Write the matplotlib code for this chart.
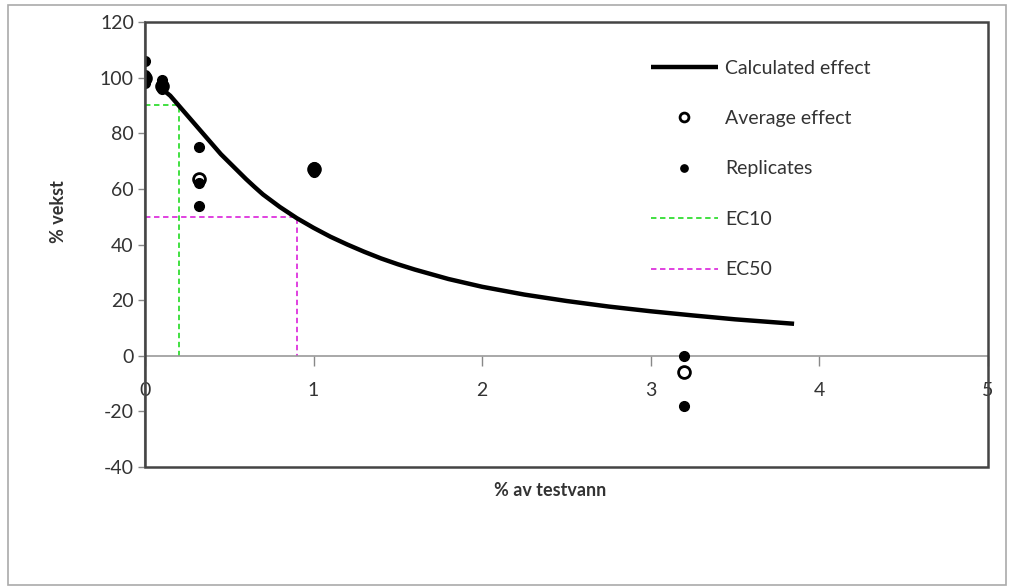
import matplotlib
matplotlib.use("Agg")
import matplotlib.pyplot as plt
from matplotlib.patches import Rectangle
from matplotlib.ticker import FuncFormatter

plt.rcParams['font.family'] = ['Lato', 'DejaVu Sans']

# replicate measurements (% growth) per test-water concentration
rep_x = [0, 0, 0, 0, 0, 0.1, 0.1, 0.1, 0.32, 0.32, 0.32, 1.0, 1.0, 1.0, 3.2, 3.2]
rep_y = [106, 101, 100, 99, 98, 99, 97, 96, 75, 62, 54, 68, 67, 66, 0, -18]

# averages
avg_x = [0, 0.1, 0.32, 1.0, 3.2]
avg_y = [100, 97, 63.5, 67, -6]

# calculated effect curve
curve_x = [0.08, 0.1, 0.15, 0.2, 0.25, 0.3, 0.35, 0.4, 0.45, 0.5, 0.55, 0.6, 0.65, 0.7,
           0.8, 0.9, 1.0, 1.1, 1.2, 1.3, 1.4, 1.5, 1.6, 1.8, 2.0, 2.25, 2.5, 2.75,
           3.0, 3.25, 3.5, 3.85]
curve_y = [97, 96, 93.5, 90, 86.5, 83, 79.5, 76, 72.5, 69.5, 66.5, 63.5, 60.7, 58,
           53.5, 49.5, 46, 42.8, 40, 37.4, 35, 32.9, 31, 27.6, 24.8, 22, 19.7, 17.7,
           16, 14.5, 13.1, 11.5]

ec10 = (0.2, 90)
ec50 = (0.9, 50)

xticks = [0, 1, 2, 3, 4, 5]
yticks = [-40, -20, 0, 20, 40, 60, 80, 100, 120]

fig = plt.figure(figsize=(10.13, 5.87), dpi=100)
ax = fig.add_axes([0.1431, 0.2044, 0.8322, 0.7581])

ax.plot(curve_x, curve_y, color='black', lw=3.2, solid_capstyle='butt',
        label='Calculated effect', zorder=3)
ax.plot(avg_x, avg_y, 'o', ms=8.5, mfc='white', mec='black', mew=2,
        label='Average effect', zorder=4)
ax.plot(rep_x, rep_y, 'o', ms=7, color='black', label='Replicates', zorder=5)

ax.plot([0, ec10[0], ec10[0]], [ec10[1], ec10[1], 0], ls=(0, (3, 2)),
        color='#33dd33', lw=1.3, label='EC10', zorder=2)
ax.plot([0, ec50[0], ec50[0]], [ec50[1], ec50[1], 0], ls=(0, (3, 2)),
        color='#dd33dd', lw=1.3, label='EC50', zorder=2)

ax.set_xlim(0, 5)
ax.set_ylim(-40, 120)
ax.set_xticks(xticks)
ax.set_yticks(yticks)
ax.yaxis.set_major_formatter(FuncFormatter(lambda v, p: '%d' % v))
ax.tick_params(axis='x', direction='out', length=7, width=1, color='#888888',
               pad=12, labelsize=14, labelcolor='#333333')
ax.tick_params(axis='y', direction='out', length=5, width=1, color='#888888',
               pad=3, labelsize=14, labelcolor='#333333')

ax.spines['bottom'].set_position(('data', 0))
ax.spines['bottom'].set_color('#999999')
ax.spines['bottom'].set_linewidth(1.2)
ax.spines['left'].set_color('#888888')
ax.spines['left'].set_linewidth(1.5)
ax.spines['top'].set_visible(False)
ax.spines['right'].set_visible(False)

# plot area border
ax.add_patch(Rectangle((0, 0), 1, 1, transform=ax.transAxes, fill=False,
                       ec='#444444', lw=1.8, clip_on=False, zorder=6))

leg = ax.legend(loc='upper left', bbox_to_anchor=(0.58, 0.955), frameon=False,
                fontsize=14, handlelength=3.4, handletextpad=0.4,
                labelspacing=1.72, markerscale=0.75)
for t in leg.get_texts():
    t.set_color('#333333')

fig.text(0.543, 0.165, '% av testvann', ha='center', va='center',
         fontsize=13, fontweight='bold', color='#333333')
fig.text(0.058, 0.64, '% vekst', ha='center', va='center', rotation=90,
         fontsize=13, fontweight='bold', color='#333333')

# outer chart-area border
fig.patches.append(Rectangle((0.008, 0.004), 0.985, 0.988, transform=fig.transFigure,
                             fill=False, ec='#aaaaaa', lw=1.2))

fig.savefig('out.png', dpi=100)
